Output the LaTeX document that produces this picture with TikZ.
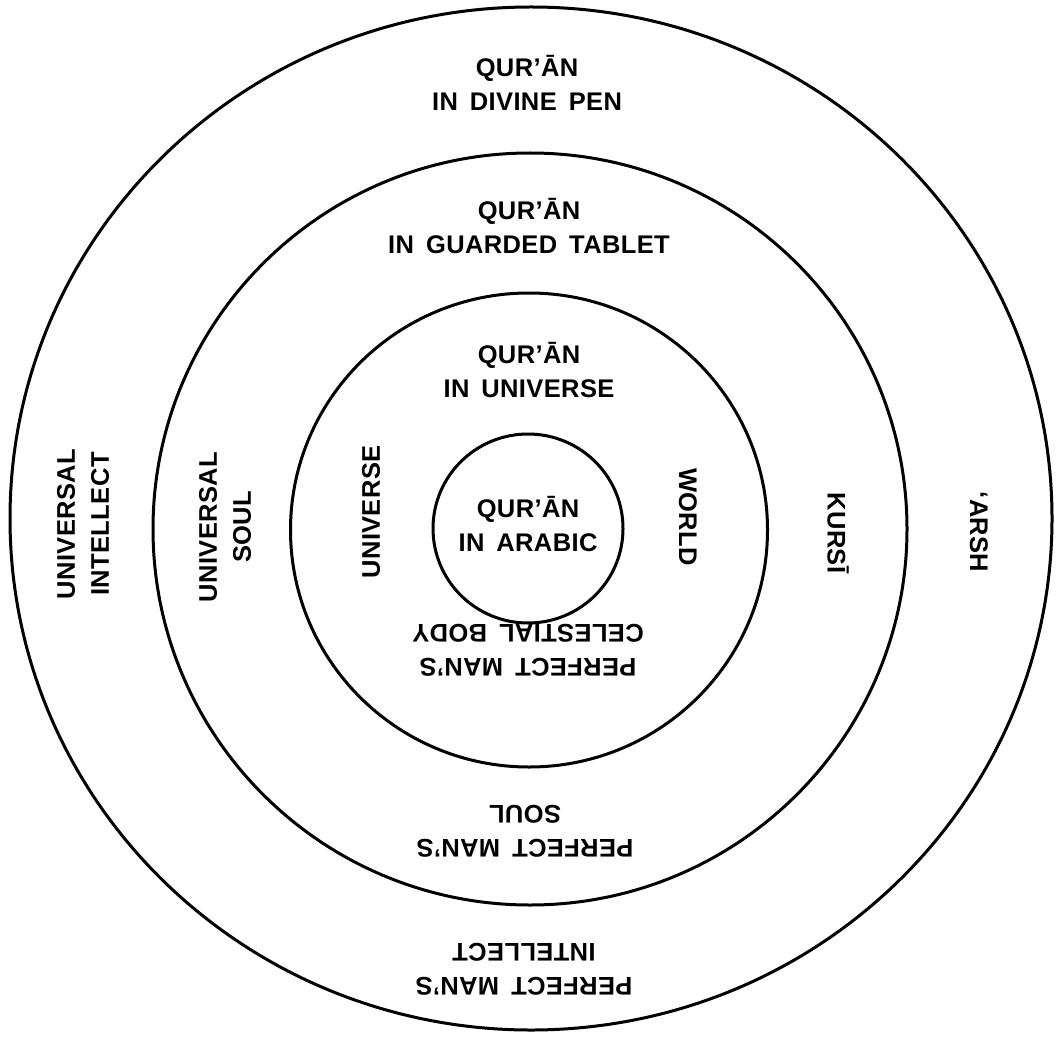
\documentclass[tikz,border=0pt]{standalone}
\usepackage{fontspec}
\newfontfamily\lab{Liberation Sans}[LetterSpace=1.5,WordSpace=1.6]
\begin{document}
\begin{tikzpicture}[x=1pt,y=-1pt,
  ring/.style={draw=black,line width=3pt},
  lbl/.style={font=\lab\bfseries\fontsize{25.5}{34}\selectfont,align=center,inner sep=0pt}]
\useasboundingbox (0,0) rectangle (1059,1040);
\fill[white] (0,0) rectangle (1059,1040);
% rings
\draw[ring] (531,518.5) ellipse [x radius=521, y radius=511.5];
\draw[ring] (530,529) ellipse [x radius=377, y radius=376];
\draw[ring] (529,530) ellipse [x radius=238.5, y radius=237];
\draw[ring] (528,528.5) ellipse [x radius=95, y radius=94.5];
% top labels
\node[lbl] (pen) at (527,83) {QUR’ĀN\\IN DIVINE PEN};
\node[lbl] (tab) at (529,226) {QUR’ĀN\\IN GUARDED TABLET};
\node[lbl] (uni) at (529,370) {QUR’ĀN\\IN UNIVERSE};
\node[lbl] (ara) at (528,524) {QUR’ĀN\\IN ARABIC};
% left labels
\node[lbl,rotate=90] (ui) at (83,524) {UNIVERSAL\\INTELLECT};
\node[lbl,rotate=90] (us) at (225,527) {UNIVERSAL\\SOUL};
\node[lbl,rotate=90] (uv) at (371,512) {UNIVERSE};
% right labels
\node[lbl,rotate=-90] (wo) at (688,517) {WORLD};
\node[lbl,rotate=-90] (ku) at (838,533) {KURSĪ};
\node[lbl,rotate=-90] (ar) at (979,532) {‘ARSH};
% bottom labels (upside down)
\node[lbl,rotate=180] (pb) at (528,650) {PERFECT MAN’S\\CELESTIAL BODY};
\node[lbl,rotate=180] (ps) at (525,831) {PERFECT MAN’S\\SOUL};
\node[lbl,rotate=180] (pi) at (524,969) {PERFECT MAN’S\\INTELLECT};
\end{tikzpicture}
\end{document}
